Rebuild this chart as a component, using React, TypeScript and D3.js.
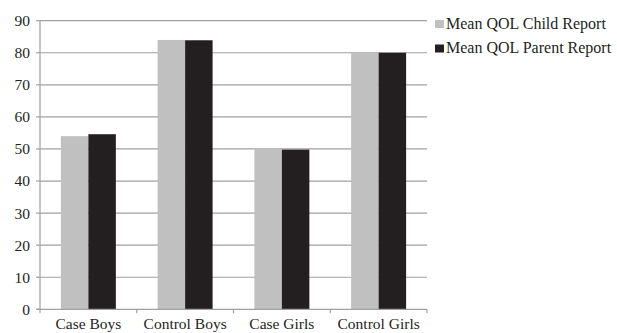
import React from "react";
import * as d3 from "d3";

const categories = ["Case Boys", "Control Boys", "Case Girls", "Control Girls"];
const seriesNames = ["Mean QOL Child Report", "Mean QOL Parent Report"];
const childValues = [54.0, 84.0, 50.2, 80.1];
const parentValues = [54.6, 83.9, 49.8, 80.0];
const yTicks = [0, 10, 20, 30, 40, 50, 60, 70, 80, 90];
const colors = ["#c0c0c0", "#231f20"];

export default function App() {
  const W = 617, H = 333;
  const left = 40, right = 427, top = 20.7, bottom = 309.3;
  const x = d3.scaleBand<string>().domain(categories).range([left, right]).paddingInner(0).paddingOuter(0);
  const x1 = d3.scaleBand<number>().domain([0, 1]).range([0, x.bandwidth()]).paddingInner(0).paddingOuter(0.76);
  const y = d3.scaleLinear().domain([0, 90]).range([bottom, top]);
  const series = [childValues, parentValues];
  const font = "'Liberation Serif', serif";
  const fs = 15.5;
  return (
    <svg width={W} height={H} style={{ position: "absolute", left: 0, top: 0 }}>
      <rect width={W} height={H} fill="#fff" />
      {yTicks.map((t) => (
        <g key={t}>
          {t > 0 && <line x1={left} x2={right} y1={y(t)} y2={y(t)} stroke="#a0a0a0" strokeWidth={1.2} />}
          <line x1={left - 4} x2={left} y1={y(t)} y2={y(t)} stroke="#a0a0a0" strokeWidth={1.2} />
          <text x={30} y={y(t)} dy="0.35em" textAnchor="end" fontFamily={font} fontSize={fs} fill="#231f20">{t}</text>
        </g>
      ))}
      {series.map((vals, si) =>
        categories.map((c, ci) => (
          <rect key={si + "-" + c} x={(x(c) as number) + (x1(si) as number)} width={x1.bandwidth()} y={y(vals[ci])} height={y(0) - y(vals[ci])} fill={colors[si]} />
        ))
      )}
      <line x1={left} x2={left} y1={top} y2={bottom} stroke="#a0a0a0" strokeWidth={1.2} />
      <line x1={left - 4} x2={right} y1={bottom} y2={bottom} stroke="#a0a0a0" strokeWidth={1.2} />
      {[...categories.map((c) => x(c) as number), right].map((v, i) => (
        <line key={i} x1={v} x2={v} y1={bottom} y2={bottom + 4} stroke="#a0a0a0" strokeWidth={1.2} />
      ))}
      {categories.map((c) => (
        <text key={c} x={(x(c) as number) + x.bandwidth() / 2} y={329} textAnchor="middle" fontFamily={font} fontSize={fs} fill="#231f20">{c}</text>
      ))}
      {seriesNames.map((n, i) => (
        <g key={n}>
          <rect x={435} y={20 + i * 24.5} width={9} height={8} fill={colors[i]} />
          <text x={446} y={28.5 + i * 24.5} fontFamily={font} fontSize={16} fill="#231f20">{n}</text>
        </g>
      ))}
    </svg>
  );
}
